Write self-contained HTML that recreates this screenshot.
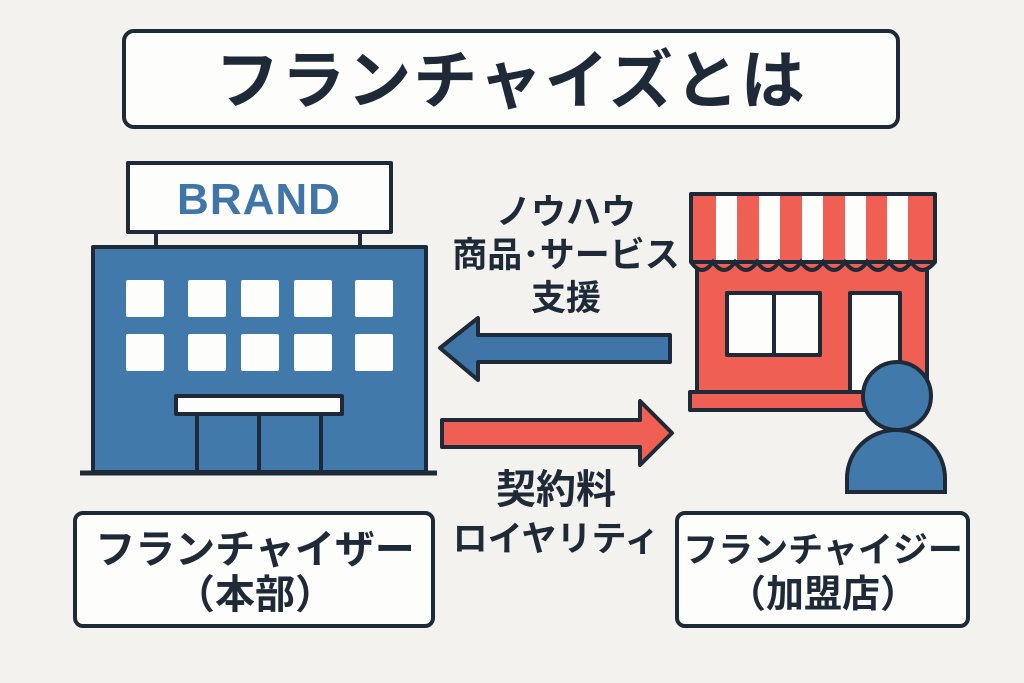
<!DOCTYPE html>
<html><head><meta charset="utf-8"><style>
html,body{margin:0;padding:0;background:#f3f2ef;}
svg{display:block}
text{font-family:"Liberation Sans","Noto Sans CJK JP",sans-serif;font-weight:bold;fill:#1f2a38;text-anchor:middle}
</style></head><body>
<svg width="1024" height="683" viewBox="0 0 1024 683" xmlns="http://www.w3.org/2000/svg">
<rect width="1024" height="683" fill="#f3f2ef"/>
<g stroke="#1f2a38" stroke-width="4" stroke-linejoin="round">
<rect x="124" y="31" width="774" height="96" rx="10" fill="#fdfdfc"/>
<rect x="75" y="513" width="358" height="113" rx="8" fill="#fdfdfc"/>
<rect x="677" y="513" width="291" height="113" rx="8" fill="#fdfdfc"/>
<line x1="156" y1="232" x2="156" y2="248"/>
<line x1="360" y1="232" x2="360" y2="248"/>
<rect x="128" y="163" width="263" height="69" fill="#fdfdfc"/>
<rect x="93" y="247" width="333" height="225" fill="#4079aa"/>
<rect x="176" y="396" width="166" height="18" fill="#fdfdfc"/>
<line x1="197" y1="414" x2="197" y2="472"/>
<line x1="259" y1="414" x2="259" y2="472"/>
<line x1="321" y1="414" x2="321" y2="472"/>
<line x1="80" y1="473" x2="437" y2="473" stroke-width="5"/>
</g>
<g fill="#fdfdfc">
<rect x="126" y="280" width="38" height="37" rx="2"/><rect x="188" y="280" width="38" height="37" rx="2"/><rect x="241" y="280" width="38" height="37" rx="2"/><rect x="294" y="280" width="38" height="37" rx="2"/><rect x="355" y="280" width="38" height="37" rx="2"/>
<rect x="126" y="334" width="38" height="37" rx="2"/><rect x="188" y="334" width="38" height="37" rx="2"/><rect x="241" y="334" width="38" height="37" rx="2"/><rect x="294" y="334" width="38" height="37" rx="2"/><rect x="355" y="334" width="38" height="37" rx="2"/>
</g>
<text x="259" y="214" font-size="44" style="fill:#3f76a7;letter-spacing:1px">BRAND</text>
<g stroke="#1f2a38" stroke-width="4" stroke-linejoin="round">
<rect x="697" y="262" width="230" height="130" fill="#ef5f54"/>
<rect x="727" y="293" width="93" height="62" fill="#fdfdfc"/>
<line x1="774" y1="293" x2="774" y2="355"/>
<rect x="850" y="293" width="50" height="100" fill="#fdfdfc"/>
<rect x="690" y="392" width="190" height="18" fill="#ef5f54"/>
</g>
<g>
<rect x="691" y="194" width="244" height="70" fill="#ef5f54"/>
<g fill="#fdfdfc">
<rect x="716" y="194" width="21" height="70"/><rect x="759" y="194" width="21" height="70"/><rect x="802" y="194" width="21" height="70"/><rect x="845" y="194" width="21" height="70"/><rect x="887" y="194" width="21" height="70"/>
</g>
<path d="M691 262 q11 16 22 0 q11 16 22 0 q11 16 22 0 q11 16 22 0 q11 16 22 0 q11 16 22 0 q11 16 22 0 q11 16 22 0 q11 16 22 0 q11 16 22 0 q11 16 24 0" fill="#ef5f54" stroke="#1f2a38" stroke-width="4"/>
<rect x="691" y="194" width="244" height="68" fill="none" stroke="#1f2a38" stroke-width="4" stroke-linejoin="round"/>
</g>
<g stroke="#1f2a38" stroke-width="4" fill="#4079aa">
<path d="M847 492 L847 478 A49 48 0 0 1 945 478 L945 492 Z"/>
<circle cx="897" cy="396" r="34"/>
</g>
<g stroke="#1f2a38" stroke-width="4" stroke-linejoin="round">
<path d="M440 348 L478 318 L478 335 L670 335 L670 362 L478 362 L478 380 Z" fill="#3f76a7"/>
<path d="M672 433 L640 401 L640 420 L442 420 L442 447 L640 447 L640 465 Z" fill="#ef5f54"/>
</g>
<text x="511" y="103" font-size="64" style="letter-spacing:2px">フランチャイズとは</text>
<text x="566" y="224" font-size="35">ノウハウ</text>
<text x="566" y="267" font-size="35">商品･サービス</text>
<text x="566" y="310" font-size="35">支援</text>
<text x="556" y="503" font-size="40">契約料</text>
<text x="556" y="551" font-size="35">ロイヤリティ</text>
<text x="255" y="563" font-size="40">フランチャイザー</text>
<text x="255" y="608" font-size="40">（本部）</text>
<text x="823" y="562" font-size="35">フランチャイジー</text>
<text x="823" y="607" font-size="38">（加盟店）</text>
</svg>
</body></html>
